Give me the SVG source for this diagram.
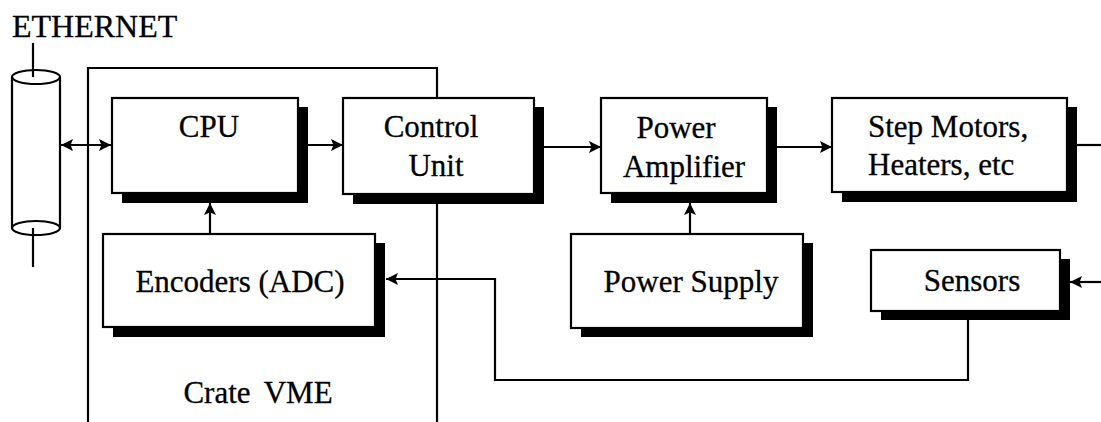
<svg xmlns="http://www.w3.org/2000/svg" width="1101" height="422" viewBox="0 0 1101 422">
<style>
text{font-family:"Liberation Serif","Times New Roman",serif;font-size:31px;fill:#000;stroke:#000;stroke-width:0.3}
.c{text-anchor:middle}
.box{fill:#fff;stroke:#000;stroke-width:2.2}
.sh{fill:#000}
.ln{fill:none;stroke:#000;stroke-width:2.2}
</style>
<defs>
<marker id="arr" viewBox="0 0 10 10" refX="10" refY="5" markerWidth="12" markerHeight="12" markerUnits="userSpaceOnUse" orient="auto-start-reverse">
<path d="M0,0 L10,5 L0,10 L2,5 Z" fill="#000"/>
</marker>
</defs>
<rect width="1101" height="422" fill="#fff"/>
<g id="crate">
<path class="ln" d="M88,422 V68 H437 V422"/>
<text class="c" x="258" y="403" style="word-spacing:6px">Crate VME</text>
</g>
<g id="ethernet">
<text x="12" y="37" style="font-size:32px">ETHERNET</text>
<line class="ln" x1="33" y1="43" x2="33" y2="77"/>
<path class="ln" d="M12,77 V228 M60,77 V228"/>
<ellipse class="ln" cx="36" cy="77" rx="24" ry="7"/>
<ellipse class="ln" cx="36" cy="228" rx="24" ry="7"/>
<line class="ln" x1="33" y1="228" x2="33" y2="267"/>
</g>
<g id="connectors">
<line class="ln" x1="61" y1="145" x2="111" y2="145" marker-start="url(#arr)" marker-end="url(#arr)"/>
<line class="ln" x1="308" y1="145" x2="343" y2="145" marker-end="url(#arr)"/>
<line class="ln" x1="544" y1="147" x2="601" y2="147" marker-end="url(#arr)"/>
<line class="ln" x1="777" y1="147" x2="832" y2="147" marker-end="url(#arr)"/>
<line class="ln" x1="1077" y1="145" x2="1101" y2="145"/>
<line class="ln" x1="210" y1="234" x2="210" y2="203" marker-end="url(#arr)"/>
<line class="ln" x1="690" y1="234" x2="690" y2="203" marker-end="url(#arr)"/>
<line class="ln" x1="1101" y1="282" x2="1070" y2="282" marker-end="url(#arr)"/>
<polyline class="ln" points="968,320 968,380 495,380 495,279 386,279" marker-end="url(#arr)"/>
</g>
<g id="cpu">
<rect class="sh" x="122" y="107" width="186" height="96"/>
<rect class="box" x="112" y="98" width="186" height="95"/>
<text class="c" x="209" y="137">CPU</text>
</g>
<g id="control">
<rect class="sh" x="353" y="107" width="191" height="97"/>
<rect class="box" x="343" y="98" width="191" height="96"/>
<text class="c" x="431" y="137">Control</text>
<text class="c" x="436" y="176">Unit</text>
</g>
<g id="amplifier">
<rect class="sh" x="611" y="107" width="166" height="96"/>
<rect class="box" x="601" y="98" width="166" height="95"/>
<text class="c" x="676" y="138">Power</text>
<text class="c" x="684" y="177">Amplifier</text>
</g>
<g id="motors">
<rect class="sh" x="842" y="107" width="235" height="95"/>
<rect class="box" x="832" y="98" width="235" height="94"/>
<text x="868" y="137">Step Motors,</text>
<text x="868" y="175">Heaters, etc</text>
</g>
<g id="encoders">
<rect class="sh" x="113" y="243" width="272" height="94"/>
<rect class="box" x="103" y="234" width="272" height="93"/>
<text class="c" x="240" y="292">Encoders (ADC)</text>
</g>
<g id="supply">
<rect class="sh" x="581" y="243" width="232" height="94"/>
<rect class="box" x="571" y="234" width="232" height="94"/>
<text class="c" x="691" y="292">Power Supply</text>
</g>
<g id="sensors">
<rect class="sh" x="881" y="259" width="189" height="61"/>
<rect class="box" x="871" y="250" width="189" height="61"/>
<text class="c" x="972" y="291">Sensors</text>
</g>
</svg>
